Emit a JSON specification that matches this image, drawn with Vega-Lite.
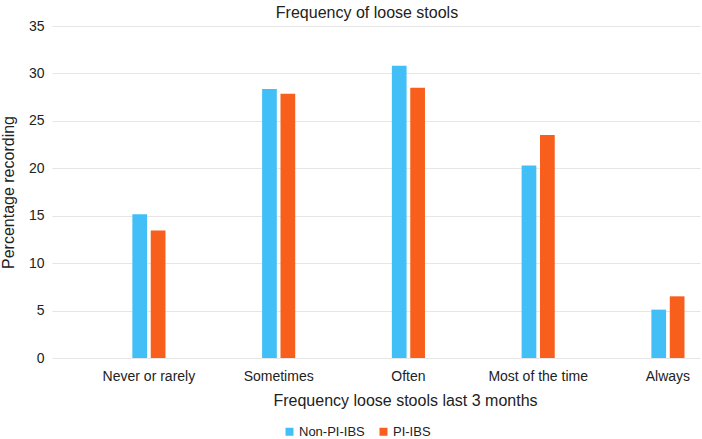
{
  "$schema": "https://vega.github.io/schema/vega-lite/v6.json",
  "width": 648,
  "height": 332,
  "autosize": {"type": "none"},
  "padding": {"left": 52, "top": 26, "right": 2, "bottom": 81},
  "background": "white",
  "config": {
    "font": "Liberation Sans",
    "view": {"stroke": null},
    "axis": {"labelColor": "#222222", "titleColor": "#222222", "titleFontWeight": "normal"}
  },
  "title": {
    "text": "Frequency of loose stools",
    "fontSize": 16,
    "fontWeight": "normal",
    "color": "#222222",
    "anchor": "middle",
    "frame": "group",
    "dx": -9,
    "dy": 9,
    "offset": 7
  },
  "data": {
    "values": [
      {"freq": "Never or rarely", "group": "Non-PI-IBS", "pct": 15.15},
      {"freq": "Never or rarely", "group": "PI-IBS", "pct": 13.45},
      {"freq": "Sometimes", "group": "Non-PI-IBS", "pct": 28.37},
      {"freq": "Sometimes", "group": "PI-IBS", "pct": 27.85},
      {"freq": "Often", "group": "Non-PI-IBS", "pct": 30.8},
      {"freq": "Often", "group": "PI-IBS", "pct": 28.5},
      {"freq": "Most of the time", "group": "Non-PI-IBS", "pct": 20.3},
      {"freq": "Most of the time", "group": "PI-IBS", "pct": 23.5},
      {"freq": "Always", "group": "Non-PI-IBS", "pct": 5.1},
      {"freq": "Always", "group": "PI-IBS", "pct": 6.5}
    ]
  },
  "mark": {"type": "bar"},
  "encoding": {
    "x": {
      "field": "freq",
      "type": "nominal",
      "sort": ["Never or rarely", "Sometimes", "Often", "Most of the time", "Always"],
      "scale": {"paddingInner": 0.7, "paddingOuter": 0.347, "align": 0.86},
      "axis": {
        "title": "Frequency loose stools last 3 months",
        "titleFontSize": 16,
        "titleX": 353,
        "titleY": 47,
        "titleAlign": "center",
        "titleBaseline": "alphabetic",
        "labelAngle": 0,
        "labelFontSize": 14,
        "labelBaseline": "alphabetic",
        "labelPadding": 22,
        "ticks": false,
        "tickSize": 0,
        "domain": false,
        "grid": false
      }
    },
    "xOffset": {
      "field": "group",
      "type": "nominal",
      "scale": {"paddingInner": 0.2, "paddingOuter": 0.158}
    },
    "y": {
      "field": "pct",
      "type": "quantitative",
      "scale": {"domain": [0, 35], "nice": false},
      "axis": {
        "title": "Percentage recording",
        "titleFontSize": 16,
        "titleX": -39,
        "titleY": 166,
        "titleAlign": "center",
        "titleBaseline": "alphabetic",
        "values": [0, 5, 10, 15, 20, 25, 30, 35],
        "labelFontSize": 14,
        "labelPadding": 8,
        "ticks": false,
        "tickSize": 0,
        "domain": false,
        "grid": true,
        "gridColor": "#e6e6e6",
        "gridWidth": 1
      }
    },
    "color": {
      "field": "group",
      "type": "nominal",
      "scale": {"domain": ["Non-PI-IBS", "PI-IBS"], "range": ["#42BFF7", "#F85E1C"]},
      "legend": {
        "title": null,
        "orient": "none",
        "direction": "horizontal",
        "legendX": 231,
        "legendY": 399,
        "padding": 0,
        "symbolType": "square",
        "symbolSize": 64,
        "symbolStrokeWidth": 0,
        "labelFontSize": 13,
        "labelColor": "#222222",
        "labelOffset": 3,
        "columnPadding": 12
      }
    }
  }
}
